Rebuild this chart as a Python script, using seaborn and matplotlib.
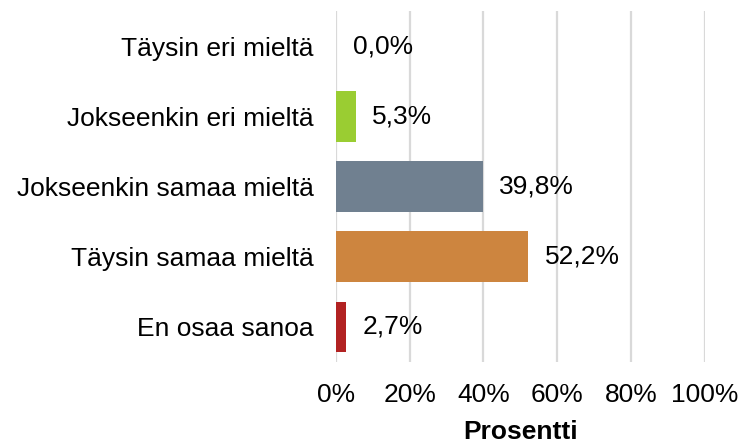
import pandas as pd
import matplotlib
matplotlib.use("Agg")
import matplotlib.pyplot as plt
import seaborn as sns

# data
categories = ["Täysin eri mieltä", "Jokseenkin eri mieltä", "Jokseenkin samaa mieltä",
              "Täysin samaa mieltä", "En osaa sanoa"]
percent = [0.0, 5.3, 39.8, 52.2, 2.7]
bar_colors = ["#4472C4", "#9ACD32", "#708090", "#CD853F", "#B22222"]
x_ticks = [0, 20, 40, 60, 80, 100]

df = pd.DataFrame({"Vastaus": categories, "Prosentti": percent})

sns.set_theme(style="white")
plt.rcParams['font.family'] = ['Liberation Sans', 'DejaVu Sans']

fig = plt.figure(figsize=(7.42, 4.45), dpi=100)
ax = fig.add_axes([0.4528, 0.1865, 0.4967, 0.7888])

sns.barplot(data=df, x="Prosentti", y="Vastaus", hue="Vastaus", palette=bar_colors,
            orient="h", width=0.72, legend=False, saturation=1, linewidth=0, ax=ax)

ax.set_xlim(0, 100)
ax.set_xticks(x_ticks)
ax.set_xticklabels([f"{t}%" for t in x_ticks])
ax.grid(axis="x", color="#d9d9d9", linewidth=1.6)
ax.grid(axis="y", visible=False)
ax.set_axisbelow(True)
sns.despine(ax=ax, left=True, bottom=True)

ax.tick_params(axis="y", length=0, pad=16, labelsize=19, labelcolor="black")
ax.tick_params(axis="x", length=0, pad=15, labelsize=19, labelcolor="black")

ax.set_ylabel("")
ax.set_xlabel("Prosentti", fontsize=19, fontweight="bold", color="black")
ax.xaxis.set_label_coords(0.5, -0.165)

# value labels with comma decimals
for cont in ax.containers:
    vals = [b.get_width() for b in cont]
    ax.bar_label(cont, labels=[f"{v:.1f}%".replace(".", ",") for v in vals],
                 padding=12, fontsize=19, color="black")

plt.savefig("out.png", dpi=100)
plt.close()
